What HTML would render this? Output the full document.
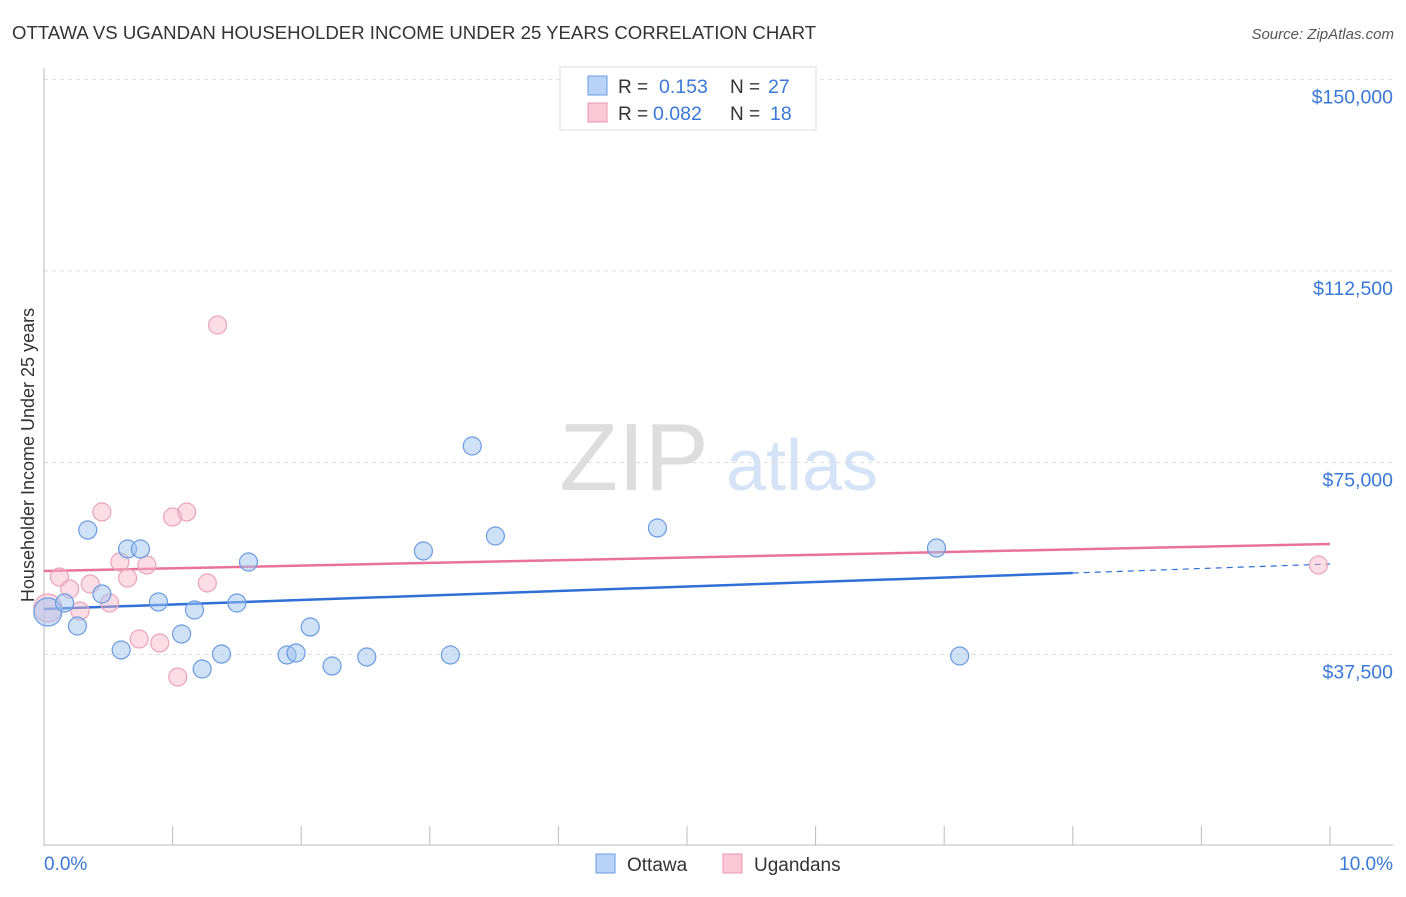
<!DOCTYPE html>
<html><head><meta charset="utf-8"><style>
body{margin:0;background:#fff;font-family:"Liberation Sans",sans-serif}
svg text{font-family:"Liberation Sans",sans-serif}
</style></head><body>
<svg id="chart" width="1406" height="892" xmlns="http://www.w3.org/2000/svg">
<text x="12" y="39" font-size="18.6" fill="#333">OTTAWA VS UGANDAN HOUSEHOLDER INCOME UNDER 25 YEARS CORRELATION CHART</text>
<text x="1394" y="39" font-size="15" fill="#555" text-anchor="end" font-style="italic">Source: ZipAtlas.com</text>
<g>
<text x="634" y="490" font-size="96" fill="#ddd" font-family="Liberation Serif" text-anchor="middle">ZIP</text>
<text x="802" y="490" font-size="72" fill="#d4e3f5" text-anchor="middle">atlas</text>
</g>
<g id="grid"></g>
<g id="axes"></g>
<g id="lines"></g>
<g id="points"></g>
<text transform="translate(34,455) rotate(-90)" font-size="18" fill="#333" text-anchor="middle">Householder Income Under 25 years</text>
<g>
<rect x="560" y="67" width="256" height="63" fill="#fff" stroke="#ddd"/>
<rect x="588" y="76" width="19" height="19" fill="#b8d3f5" stroke="#6a9be0"/>
<rect x="588" y="103" width="19" height="19" fill="#fbc8d7" stroke="#e996b0"/>
<text x="618" y="93" font-size="19" fill="#333">R = </text><text x="659" y="93" font-size="19.5" fill="#3a78d8">0.153</text>
<text x="730" y="93" font-size="19" fill="#333">N = </text><text x="768" y="93" font-size="19.5" fill="#3a78d8">27</text>
<text x="618" y="120" font-size="19" fill="#333">R = </text><text x="653" y="120" font-size="19.5" fill="#3a78d8">0.082</text>
<text x="730" y="120" font-size="19" fill="#333">N = </text><text x="770" y="120" font-size="19.5" fill="#3a78d8">18</text>
</g>
<g>
<rect x="596" y="854" width="19" height="19" fill="#b8d3f5" stroke="#6a9be0"/>
<text x="627" y="871" font-size="19" fill="#333">Ottawa</text>
<rect x="723" y="854" width="19" height="19" fill="#fbc8d7" stroke="#e996b0"/>
<text x="754" y="871" font-size="19" fill="#333">Ugandans</text>
</g>
</svg>
<script>
const yTicks=[37500,75000,112500,150000];
const yTickLabels=["$37,500","$75,000","$112,500","$150,000"];
const ottawaX=[0.03,0.16,0.26,0.34,0.45,0.60,0.65,0.75,0.89,1.07,1.17,1.23,1.38,1.50,1.59,1.89,1.96,2.07,2.24,2.51,2.95,3.16,3.33,3.51,4.77,6.94,7.12];
const ottawaY=[45780,47540,43040,61820,49300,38350,58110,58110,47740,41480,46170,34630,37560,47540,55560,37370,37760,42850,35220,36980,57720,37370,78260,60650,62220,58300,37170];
const ugandaX=[0.03,0.12,0.20,0.28,0.36,0.45,0.51,0.59,0.65,0.74,0.80,0.90,1.00,1.04,1.11,1.27,1.35,9.91];
const ugandaY=[46560,52630,50280,45980,51260,65350,47540,55560,52430,40500,54980,39720,64370,33070,65350,51460,101930,54980];
const ottawaTrend=[46370,53410,55170];
const ugandaTrend=[53800,59090];
const NS="http://www.w3.org/2000/svg";
const xs=v=>44+v*128.6, ys=v=>846-v/195.65;
function mk(tag,attrs,parent){const e=document.createElementNS(NS,tag);for(const k in attrs)e.setAttribute(k,attrs[k]);document.getElementById(parent).appendChild(e);return e;}
yTicks.forEach((t,i)=>{
 const g=mk('line',{x1:44,x2:1393,y1:ys(t),y2:ys(t),stroke:'#ddd','stroke-dasharray':'4,4'},'grid');
 
 
 const l=mk('text',{x:1393,y:ys(t)+24,'font-size':19.5,fill:'#3a78d8','text-anchor':'end'},'axes');
 l.textContent=yTickLabels[i];
 
 
});
let a=mk('line',{x1:44,x2:44,y1:68,y2:846,stroke:'#bbb'},'axes');


a=mk('line',{x1:44,x2:1393,y1:845,y2:845,stroke:'#bbb'},'axes');


for(let i=1;i<=10;i++){const t=mk('line',{x1:xs(i),x2:xs(i),y1:826,y2:845,stroke:'#bbb'},'axes');
 
 }
let t=mk('text',{x:44,y:870,'font-size':19,fill:'#3a78d8'},'axes');t.textContent='0.0%';


t=mk('text',{x:1393,y:870,'font-size':19,fill:'#3a78d8','text-anchor':'end'},'axes');t.textContent='10.0%';


ugandaX.forEach((x,i)=>{const c=mk('circle',{cx:xs(x),cy:ys(ugandaY[i]),r:i==0?14:9,fill:'rgba(248,180,200,0.45)',stroke:'#eba3b9','stroke-width':1.2},'points');
 
 });
ottawaX.forEach((x,i)=>{const c=mk('circle',{cx:xs(x),cy:ys(ottawaY[i]),r:i==0?14:9,fill:'rgba(160,195,240,0.5)',stroke:'#6a9be0','stroke-width':1.2},'points');
 
 });
let ln=mk('line',{x1:xs(0),y1:ys(ugandaTrend[0]),x2:xs(10),y2:ys(ugandaTrend[1]),stroke:'#e8739a','stroke-width':2.5},'lines');


ln=mk('line',{x1:xs(0),y1:ys(ottawaTrend[0]),x2:xs(8),y2:ys(ottawaTrend[1]),stroke:'#2f6fd6','stroke-width':2.5},'lines');


ln=mk('line',{x1:xs(8),y1:ys(ottawaTrend[1]),x2:xs(10),y2:ys(ottawaTrend[2]),stroke:'#2f6fd6','stroke-width':1.2,'stroke-dasharray':'6,5'},'lines');


</script>
</body></html>
